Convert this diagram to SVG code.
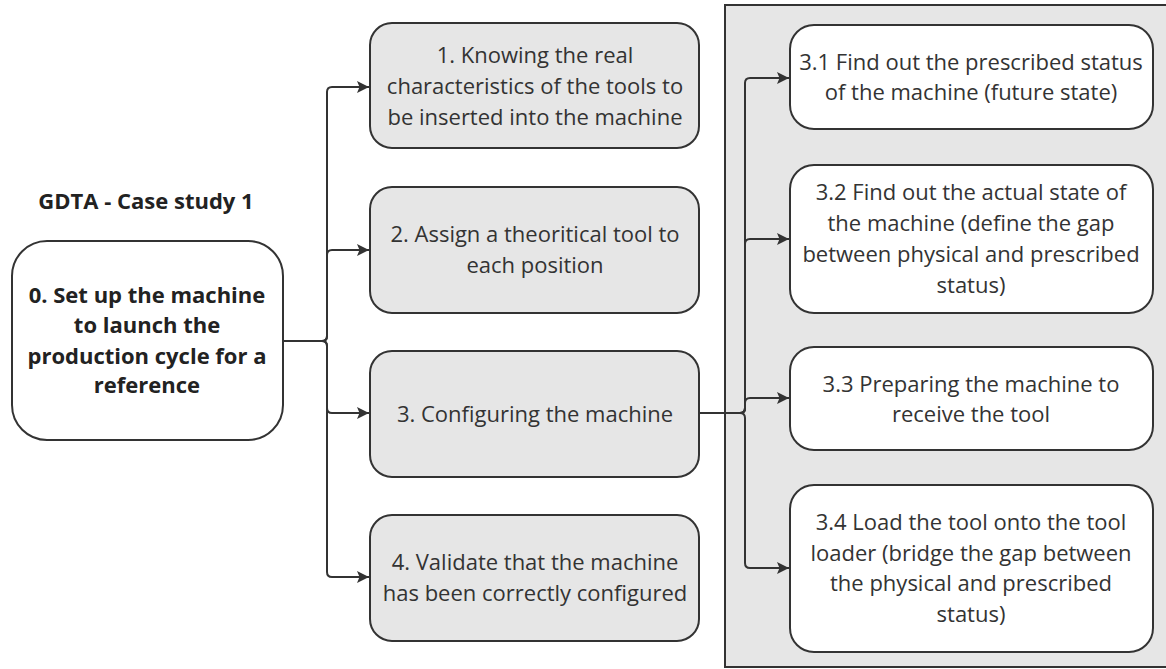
<svg xmlns="http://www.w3.org/2000/svg" width="1166" height="669" viewBox="0 0 1166 669">
<style>
.t{font-family:"Open Sans","Noto Sans",sans-serif;font-size:22px;fill:#333;text-anchor:middle}
.b{font-weight:bold;font-size:22px;fill:#222}
.g{fill:#e6e6e6;stroke:#333;stroke-width:2}
.w{fill:#fff;stroke:#333;stroke-width:2}
.c{fill:none;stroke:#333;stroke-width:2}
</style>
<defs>
<marker id="ah" viewBox="0 0 12 12" refX="12" refY="6" markerWidth="12" markerHeight="12" markerUnits="userSpaceOnUse" orient="auto">
<path d="M0,0 L12,6 L0,12 L2.5,6 Z" fill="#333"/>
</marker>
</defs>
<rect width="1166" height="669" fill="#fff"/>
<g id="panel"><rect x="725" y="5" width="445" height="662" fill="#e6e6e6" stroke="#333" stroke-width="2"/></g>
<g id="title"><text class="t b" x="146" y="209">GDTA - Case study 1</text></g>
<g id="n0"><rect class="w" x="12" y="241" width="271" height="199" rx="35"/>
<text class="t b" x="147" y="303">0. Set up the machine</text>
<text class="t b" x="147" y="333">to launch the</text>
<text class="t b" x="147" y="364">production cycle for a</text>
<text class="t b" x="147" y="393">reference</text></g>
<g id="n1"><rect class="g" x="370" y="23" width="329" height="125" rx="22"/>
<text class="t" x="535" y="63">1. Knowing the real</text>
<text class="t" x="535" y="94">characteristics of the tools to</text>
<text class="t" x="535" y="125">be inserted into the machine</text></g>
<g id="n2"><rect class="g" x="370" y="187" width="329" height="126" rx="22"/>
<text class="t" x="535" y="242">2. Assign a theoritical tool to</text>
<text class="t" x="535" y="273">each position</text></g>
<g id="n3"><rect class="g" x="370" y="351" width="329" height="126" rx="22"/>
<text class="t" x="535" y="422">3. Configuring the machine</text></g>
<g id="n4"><rect class="g" x="370" y="515" width="329" height="126" rx="22"/>
<text class="t" x="535" y="570">4. Validate that the machine</text>
<text class="t" x="535" y="601">has been correctly configured</text></g>
<g id="n31"><rect class="w" x="790" y="25" width="363" height="104" rx="24"/>
<text class="t" x="971" y="70">3.1 Find out the prescribed status</text>
<text class="t" x="971" y="100">of the machine (future state)</text></g>
<g id="n32"><rect class="w" x="790" y="165" width="363" height="148" rx="24"/>
<text class="t" x="971" y="200">3.2 Find out the actual state of</text>
<text class="t" x="971" y="231">the machine (define the gap</text>
<text class="t" x="971" y="262">between physical and prescribed</text>
<text class="t" x="971" y="293">status)</text></g>
<g id="n33"><rect class="w" x="790" y="347" width="363" height="103" rx="24"/>
<text class="t" x="971" y="392">3.3 Preparing the machine to</text>
<text class="t" x="971" y="422">receive the tool</text></g>
<g id="n34"><rect class="w" x="790" y="485" width="363" height="167" rx="24"/>
<text class="t" x="971" y="530">3.4 Load the tool onto the tool</text>
<text class="t" x="971" y="561">loader (bridge the gap between</text>
<text class="t" x="971" y="591">the physical and prescribed</text>
<text class="t" x="971" y="622">status)</text></g>
<g id="connectors">
<path class="c" marker-end="url(#ah)" d="M283,341 H322 Q327,341 327,336 V92 Q327,87 332,87 H369"/>
<path class="c" marker-end="url(#ah)" d="M283,341 H322 Q327,341 327,336 V255 Q327,250 332,250 H369"/>
<path class="c" marker-end="url(#ah)" d="M283,341 H322 Q327,341 327,346 V408 Q327,413 332,413 H369"/>
<path class="c" marker-end="url(#ah)" d="M283,341 H322 Q327,341 327,346 V572 Q327,577 332,577 H369"/>
<path class="c" marker-end="url(#ah)" d="M699,413 H740 Q745,413 745,408 V83 Q745,78 750,78 H789"/>
<path class="c" marker-end="url(#ah)" d="M699,413 H740 Q745,413 745,408 V244 Q745,239 750,239 H789"/>
<path class="c" marker-end="url(#ah)" d="M699,413 H740 Q745,413 745,408 V403 Q745,398 750,398 H789"/>
<path class="c" marker-end="url(#ah)" d="M699,413 H740 Q745,413 745,418 V563 Q745,568 750,568 H789"/>
</g>
</svg>
